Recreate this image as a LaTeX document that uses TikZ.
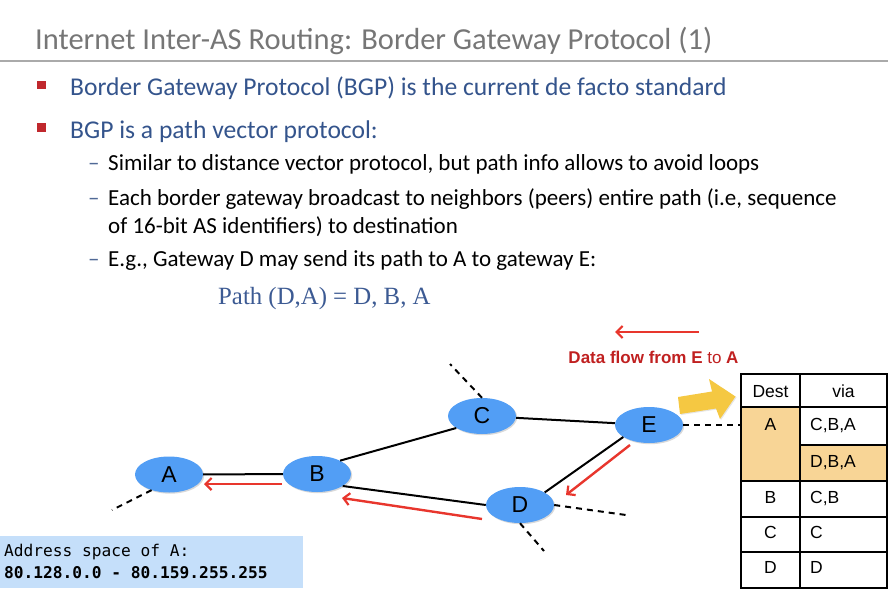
\documentclass[tikz,border=0pt]{standalone}
\usepackage{fontspec}
\setmainfont{Carlito}
\newfontfamily\arialf{Liberation Sans}
\newfontfamily\monof{DejaVu Sans Mono}
\newfontfamily\seriff{Liberation Serif}
\usetikzlibrary{shapes.geometric,arrows.meta,shadows}
\definecolor{titlegray}{RGB}{118,118,118}
\definecolor{rulegray}{RGB}{170,170,170}
\definecolor{bulletblue}{RGB}{52,84,140}
\definecolor{bulletred}{RGB}{192,40,45}
\definecolor{dashblue}{RGB}{80,105,150}
\definecolor{pathblue}{RGB}{60,90,147}
\definecolor{nodeblue}{RGB}{82,158,245}
\definecolor{arrred}{RGB}{232,54,45}
\definecolor{flowred}{RGB}{192,32,32}
\definecolor{hlorange}{RGB}{248,213,150}
\definecolor{yarrow}{RGB}{245,200,66}
\definecolor{addrblue}{RGB}{197,223,250}
\begin{document}
\begin{tikzpicture}[x=1pt,y=-1pt,
  txt/.style={anchor=base west, inner sep=0pt},
  titlefont/.style={font=\fontsize{30.5}{36}\selectfont, text=titlegray},
  lvlone/.style={txt, font=\fontsize{25.6}{30}\selectfont, text=bulletblue},
  lvltwo/.style={txt, font=\fontsize{23}{27}\selectfont, text=black},
  subdash/.style={txt, font=\fontsize{23}{27}\selectfont, text=dashblue},
  as/.style={ellipse, fill=nodeblue, minimum width=68pt, minimum height=36pt, inner sep=0pt,
     font=\arialf\fontsize{23}{26}\selectfont,
     drop shadow={shadow xshift=1.2pt,shadow yshift=-1.2pt,opacity=0.3}},
  link/.style={line width=2pt, black},
  stub/.style={line width=2pt, black, dash pattern=on 6pt off 5pt},
  flow/.style={line width=2.4pt, arrred, -{Straight Barb[length=6pt,width=12pt,line width=2.2pt]}},
  tcell/.style={anchor=base, inner sep=0pt, font=\arialf\fontsize{17.5}{20}\selectfont},
  tcellw/.style={anchor=base west, inner sep=0pt, font=\arialf\fontsize{17.5}{20}\selectfont},
  tline/.style={line width=1.5pt, black},
  addr/.style={txt, font=\monof\fontsize{16.2}{19}\selectfont}
]
\useasboundingbox (0,0) rectangle (888,610);

% Title
\node[txt, titlefont] (title) at (35,49.5) {Internet Inter-AS Routing: Border Gateway Protocol (1)};
\draw[rulegray, line width=2.2pt] (0,61) -- (888,61);

% Bullets
\fill[bulletred] (37,80.5) rectangle (45.5,89);
\node[lvlone] (b1) at (70,95.5) {Border Gateway Protocol (BGP) is the current de facto standard};
\fill[bulletred] (37,123) rectangle (45.5,131.5);
\node[lvlone] (b2) at (70,138) {BGP is a path vector protocol:};

\node[subdash] (d1) at (88,170.5) {–};
\node[lvltwo] (s1) at (108,170.5) {Similar to distance vector protocol, but path info allows to avoid loops};
\node[subdash] (d2) at (88,205) {–};
\node[lvltwo] (s2) at (108,205) {Each border gateway broadcast to neighbors (peers) entire path (i.e, sequence};
\node[lvltwo] (s2b) at (108,233) {of 16-bit AS identifiers) to destination};
\node[subdash] (d3) at (88,266) {–};
\node[lvltwo] (s3) at (108,266) {E.g., Gateway D may send its path to A to gateway E:};

\node[txt, font=\seriff\fontsize{24.8}{28}\selectfont, text=pathblue] (path) at (218,304) {Path (D,A) = D, B, A};

% Data flow label
\coordinate (fs) at (699,332);
\coordinate (fe) at (615,332);
\draw[flow] (fs) -- (fe);
\node[anchor=base, inner sep=0pt, font=\arialf\fontsize{17}{20}\selectfont, text=flowred] (flowlbl) at (653.5,363)
  {\textbf{Data flow from E} to \textbf{A}};

% Address box
\fill[addrblue] (0,536) rectangle (303,588);
\node[addr] (addr1) at (4,556) {Address space of A:};
\node[addr] (addr2) at (4,578) {\bfseries 80.128.0.0 - 80.159.255.255};

% Table
\fill[hlorange] (741,407) rectangle (800,481);
\fill[hlorange] (800,445) rectangle (887,481);
\draw[tline] (741,374) rectangle (887,588);
\draw[tline] (800,374) -- (800,588);
\draw[tline] (741,407) -- (887,407);
\draw[tline] (800,445) -- (887,445);
\draw[tline] (741,481) -- (887,481);
\draw[tline] (741,517) -- (887,517);
\draw[tline] (741,552) -- (887,552);
\node[tcell] (hdest) at (770.5,397.5) {Dest};
\node[tcell] (hvia) at (843.5,397.5) {via};
\node[tcell] (rA) at (770.5,430.5) {A};
\node[tcellw] (vA1) at (810,430.5) {C,B,A};
\node[tcellw] (vA2) at (810,467.5) {D,B,A};
\node[tcell] (rB) at (770.5,503) {B};
\node[tcellw] (vB) at (810,503) {C,B};
\node[tcell] (rC) at (770.5,538) {C};
\node[tcellw] (vC) at (810,538) {C};
\node[tcell] (rD) at (770.5,573) {D};
\node[tcellw] (vD) at (810,573) {D};
\coordinate (tabedge) at (741,425);

% Yellow arrow
\fill[yarrow, drop shadow={shadow xshift=1pt,shadow yshift=-1pt,opacity=0.2}]
  (678,397) -- (712,391.5) -- (709,379) -- (735.5,396.5) -- (720,419) -- (716,408.5) -- (680,414) -- cycle;

% AS nodes
\node[as] (A) at (169,474.5) {A};
\node[as] (B) at (317,474) {B};
\node[as] (C) at (482,416) {C};
\node[as] (D) at (520,505) {D};
\node[as] (E) at (649,425) {E};

% links
\draw[link] (A) -- (B);
\draw[link] (B.30) -- (C.205);
\draw[link] (C) -- (E);
\draw[link] (E.205) -- (D.27);
\draw[link] (B.335) -- (D.180);

% stubs
\coordinate (sa) at (112,510);
\coordinate (sc) at (450,364);
\coordinate (sd1) at (544,551);
\coordinate (sd2) at (626,515);
\draw[stub] (A.222) -- (sa);
\draw[stub] (C.north) -- (sc);
\draw[stub] (D.south) -- (sd1);
\draw[stub] (D.east) -- (sd2);
\draw[stub] (E.east) -- (tabedge);

% red flow arrows
\coordinate (ba1) at (282,484);
\coordinate (ba2) at (204,484);
\coordinate (db1) at (482,519);
\coordinate (db2) at (342,498);
\coordinate (ed1) at (630,445);
\coordinate (ed2) at (566,495);
\draw[flow] (ba1) -- (ba2);
\draw[flow] (db1) -- (db2);
\draw[flow] (ed1) -- (ed2);
\end{tikzpicture}
\end{document}
